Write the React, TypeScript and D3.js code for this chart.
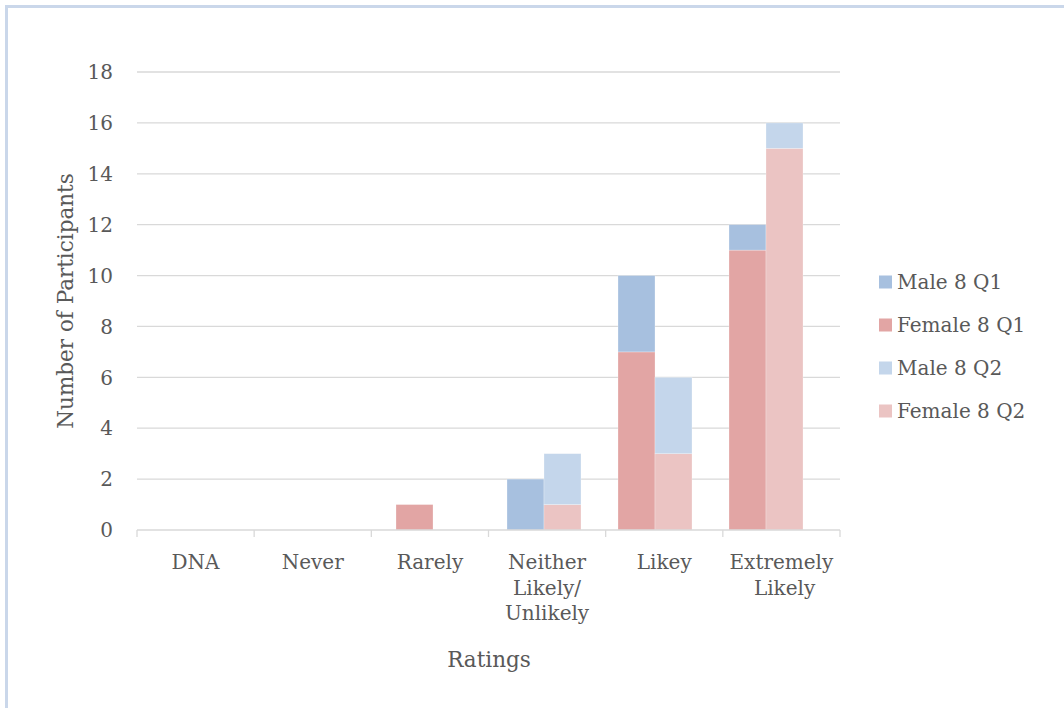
import React from "react";
import * as d3 from "d3";

const categories = ["DNA", "Never", "Rarely", "Neither Likely/ Unlikely", "Likey", "Extremely Likely"];
const categoryLines = [["DNA"], ["Never"], ["Rarely"], ["Neither", "Likely/", "Unlikely"], ["Likey"], ["Extremely", " Likely"]];
const maleQ1 = [0, 0, 0, 2, 3, 1];
const femaleQ1 = [0, 0, 1, 0, 7, 11];
const maleQ2 = [0, 0, 0, 2, 3, 1];
const femaleQ2 = [0, 0, 0, 1, 3, 15];
const yTicks = [0, 2, 4, 6, 8, 10, 12, 14, 16, 18];
const seriesNames = ["Male 8 Q1", "Female 8 Q1", "Male 8 Q2", "Female 8 Q2"];
const seriesColors = ["#a7c0df", "#e2a5a4", "#c4d6eb", "#ebc4c3"];

const W = 1064;
const H = 708;
const left = 137;
const right = 840;
const top = 72;
const bottom = 530;
const font = "'DejaVu Serif', serif";
const textColor = "#595959";
const gridColor = "#d9d9d9";

export default function App() {
  const xCat = d3.scaleBand<string>().domain(categories).range([left, right]);
  const nSlots = categories.length * 3 + 1;
  const xSlot = d3.scaleLinear().domain([0, nSlots]).range([left, right]);
  const y = d3.scaleLinear().domain([0, 18]).range([bottom, top]);

  const rows = categories.map((c, i) => ({
    cat: c,
    i,
    fQ1: femaleQ1[i],
    mQ1: maleQ1[i],
    fQ2: femaleQ2[i],
    mQ2: maleQ2[i],
  }));
  const stackQ1 = d3.stack<any>().keys(["fQ1", "mQ1"])(rows);
  const stackQ2 = d3.stack<any>().keys(["fQ2", "mQ2"])(rows);
  const groups = [
    { stack: stackQ1, slot: 1, colors: [seriesColors[1], seriesColors[0]] },
    { stack: stackQ2, slot: 2, colors: [seriesColors[3], seriesColors[2]] },
  ];

  const bars: React.ReactNode[] = [];
  groups.forEach((g, gi) => {
    g.stack.forEach((layer, li) => {
      layer.forEach((seg, ci) => {
        const h = y(seg[0]) - y(seg[1]);
        if (h <= 0) return;
        const x0 = xSlot(ci * 3 + g.slot);
        const x1 = xSlot(ci * 3 + g.slot + 1);
        bars.push(
          <rect
            key={`b${gi}-${li}-${ci}`}
            x={x0}
            y={y(seg[1])}
            width={x1 - x0}
            height={h}
            fill={g.colors[li]}
            stroke="#ffffff"
            strokeOpacity={0.35}
            strokeWidth={0.75}
          />
        );
      });
    });
  });

  const boundaries = d3.range(categories.length + 1).map((i) => left + i * xCat.step());

  return (
    <div style={{ position: "absolute", left: 0, top: 0, width: W, height: H, background: "#fff" }}>
      <svg width={W} height={H} style={{ display: "block" }}>
        <rect x={0} y={0} width={W} height={H} fill="#ffffff" />
        <rect x={6.5} y={6.5} width={W + 50} height={H + 50} fill="none" stroke="#cad7ea" strokeWidth={3} />
        {yTicks.map((t) => (
          <g key={`g${t}`}>
            {t > 0 && <line x1={left} x2={right} y1={y(t)} y2={y(t)} stroke={gridColor} strokeWidth={1.3} />}
            <text x={113} y={y(t)} dy="0.36em" textAnchor="end" fontFamily={font} fontSize={20} fill={textColor}>
              {t}
            </text>
          </g>
        ))}
        {bars}
        <line x1={left} x2={right} y1={bottom} y2={bottom} stroke={gridColor} strokeWidth={1.3} />
        {boundaries.map((bx, i) => (
          <line key={`t${i}`} x1={bx} x2={bx} y1={bottom} y2={bottom + 7} stroke={gridColor} strokeWidth={1.3} />
        ))}
        {categories.map((c, i) => (
          <text
            key={`c${i}`}
            x={(xCat(c) as number) + xCat.bandwidth() / 2}
            y={562}
            dy="0.36em"
            textAnchor="middle"
            fontFamily={font}
            fontSize={20}
            fill={textColor}
            style={{ whiteSpace: "pre" }}
          >
            {categoryLines[i].map((ln, j) => (
              <tspan key={j} x={(xCat(c) as number) + xCat.bandwidth() / 2} dy={j === 0 ? "0.36em" : 25.5}>
                {ln}
              </tspan>
            ))}
          </text>
        ))}
        <text
          x={489}
          y={659}
          dy="0.36em"
          textAnchor="middle"
          fontFamily={font}
          fontSize={21.5}
          fill={textColor}
        >
          Ratings
        </text>
        <text
          transform={`translate(65,${(top + bottom) / 2}) rotate(-90)`}
          dy="0.36em"
          textAnchor="middle"
          fontFamily={font}
          fontSize={21.5}
          fill={textColor}
        >
          Number of Participants
        </text>
        {seriesNames.map((s, i) => (
          <g key={`l${i}`} transform={`translate(879,${282 + i * 43})`}>
            <rect x={0} y={-6.5} width={13} height={13} fill={seriesColors[i]} />
            <text x={18} y={0} dy="0.36em" fontFamily={font} fontSize={20} fill={textColor}>
              {s}
            </text>
          </g>
        ))}
      </svg>
    </div>
  );
}
